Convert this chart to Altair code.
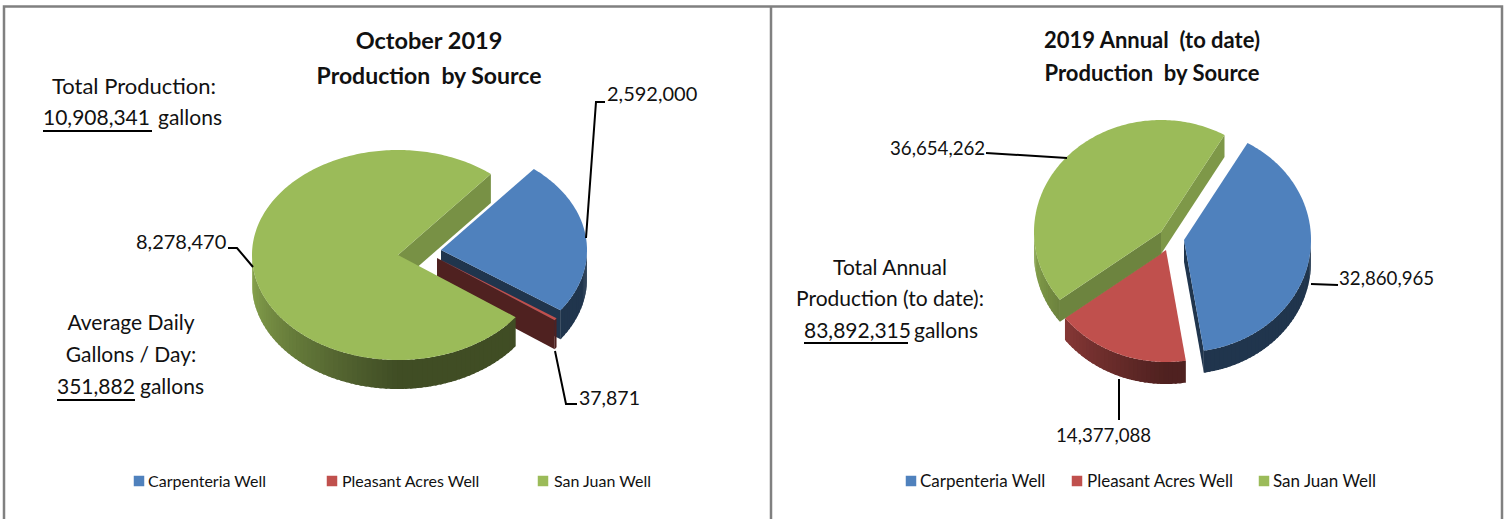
import math
import altair as alt

# Well production, gallons
WELLS = ["Carpenteria Well", "Pleasant Acres Well", "San Juan Well"]
MONTH_GALLONS = [2592000, 37871, 8278470]
YEAR_GALLONS = [32860965, 14377088, 36654262]
WELL_RGB = [(79, 129, 189), (192, 80, 77), (155, 187, 89)]
WELL_HEX = ["#4f81bd", "#c0504d", "#9bbb59"]

FONT = "Lato"
W, H = 1507, 519


def tint(rgb, k):
    return "#%02x%02x%02x" % tuple(int(round(c * k)) for c in rgb)


def feature(kind, coords, fill):
    return {
        "type": "Feature",
        "geometry": {"type": kind, "coordinates": coords},
        "properties": {"fill": fill},
    }


def rim_shade(a):
    # Side lighting of the pie rim: brightest on the far left, dark towards the front
    a = a % 360
    if a <= 180:
        return 0.41
    return 0.41 + 0.49 * min(a - 180, 90) / 90


def pie_3d(values, start, anchors, rx, ry, depth):
    """Extruded exploded pie; slices run clockwise from `start` degrees off vertical."""
    total = sum(values)
    shapes = []
    a0 = start
    for value, rgb, (cx, cy) in zip(values, WELL_RGB, anchors):
        a1 = a0 + 360 * value / total

        def pt(a, drop=0):
            r = math.radians(a)
            return [cx + rx * math.sin(r), cy - ry * math.cos(r) + drop]

        # Flat cut faces, only those turned towards the viewer
        for a, nx, ny in (
            (a0, -math.cos(math.radians(a0)), -math.sin(math.radians(a0))),
            (a1, math.cos(math.radians(a1)), math.sin(math.radians(a1))),
        ):
            if ny > 0:
                k = 0.41 if nx <= 0 else 0.45 + 0.42 * nx
                ring = [[cx, cy], pt(a), pt(a, depth), [cx, cy + depth], [cx, cy]]
                shapes.append(feature("Polygon", [ring], tint(rgb, k)))

        # Curved rim: short shaded strips, each running under the next so no seams show
        lo, hi = max(a0, 90), min(a1, 270)
        a = lo
        while a < hi:
            b = min(a + 2, hi)
            e = min(b + 1, hi)
            arc = [pt(a + (e - a) * i / 4) for i in range(5)]
            low = [pt(a + (e - a) * i / 4, depth) for i in range(4, -1, -1)]
            ring = arc + low + [arc[0]]
            shapes.append(feature("Polygon", [ring], tint(rgb, rim_shade((a + b) / 2))))
            a = b

        # Top face
        n = max(int(a1 - a0), 2)
        arc = [pt(a0 + (a1 - a0) * i / n) for i in range(n + 1)]
        shapes.append(feature("Polygon", [[[cx, cy]] + arc + [[cx, cy]]], tint(rgb, 1)))
        a0 = a1
    return shapes


def line_layer(paths, color, width):
    feats = [feature("LineString", p, color) for p in paths]
    return (
        alt.Chart(alt.Data(values=feats))
        .mark_geoshape(filled=False, stroke=color, strokeWidth=width, strokeCap="butt")
        .project(type="identity", scale=1, translate=[0, 0])
    )


def label(text, x, y, size=20, align="left", bold=False):
    return (
        alt.Chart(alt.Data(values=[{"t": text}]))
        .mark_text(
            font=FONT, fontSize=size, align=align, baseline="middle",
            fontWeight="bold" if bold else "normal", color="#111111",
        )
        .encode(x=alt.value(x), y=alt.value(y + 1), text="t:N")
    )


def swatch(color, x, y):
    return (
        alt.Chart(alt.Data(values=[{"c": color}]))
        .mark_square(size=110, color=color, opacity=1)
        .encode(x=alt.value(x), y=alt.value(y))
    )


month_shapes = pie_3d(
    MONTH_GALLONS, 39.5, [(441, 250), (437, 258), (398, 255)], 146, 105, 29
)
year_shapes = pie_3d(
    YEAR_GALLONS, 30, [(1184, 240), (1166, 250), (1161, 232)], 127, 112, 22
)

pies = (
    alt.Chart(alt.Data(values=month_shapes + year_shapes))
    .mark_geoshape()
    .encode(fill=alt.Fill("properties.fill:N", scale=None))
    .project(type="identity", scale=1, translate=[0, 0])
)

frame = line_layer(
    [
        [[4, 519], [4, 6.5], [1502, 6.5], [1502, 519]],
        [[771, 6.5], [771, 519]],
    ],
    "#808080",
    2.5,
)

leaders = line_layer(
    [
        [[586, 238], [596, 102], [605, 102]],
        [[228, 248], [237, 248], [253, 267]],
        [[555, 351], [566, 404], [577, 404]],
        [[986, 153], [1067, 158]],
        [[1311, 284], [1338, 285]],
        [[1119, 379], [1119, 420]],
    ],
    "#000000",
    2,
)

underlines = line_layer(
    [
        [[43, 131], [152, 131]],
        [[57, 400], [135, 400]],
        [[804, 343], [908, 343]],
    ],
    "#000000",
    2,
)

texts = [
    label("October 2019", 429, 41, 23.5, "center", True),
    label("Production\u00a0 by Source", 429, 76, 23, "center", True),
    label("Total Production:", 134, 86, 22, "center"),
    label("10,908,341", 43, 118, 21),
    label("gallons", 158, 118, 21),
    label("Average Daily", 131, 323, 21, "center"),
    label("Gallons / Day:", 131, 355, 21, "center"),
    label("351,882", 57, 387, 21),
    label("gallons", 140, 387, 21),
    label("2,592,000", 607, 94),
    label("8,278,470", 136, 242),
    label("37,871", 579, 398, 19.5),
    label("2019 Annual\u00a0 (to date)", 1152, 40, 22, "center", True),
    label("Production\u00a0 by Source", 1152, 73, 22, "center", True),
    label("Total Annual", 890, 268, 21, "center"),
    label("Production (to date):", 890, 299, 21, "center"),
    label("83,892,315", 804, 331, 21),
    label("gallons", 914, 331, 21),
    label("36,654,262", 890, 148, 18.7),
    label("32,860,965", 1339, 278, 18.7),
    label("14,377,088", 1056, 435, 18.7),
]

legend = []
for well, color, mx, tx in zip(WELLS, WELL_HEX, (139, 332, 543), (148, 342, 554)):
    legend += [swatch(color, mx, 481), label(well, tx, 481, 16)]
for well, color, mx, tx in zip(WELLS, WELL_HEX, (911, 1077, 1264), (920, 1087, 1273)):
    legend += [swatch(color, mx, 481), label(well, tx, 481, 17)]

chart = (
    alt.layer(frame, pies, leaders, underlines, *texts, *legend)
    .properties(
        width=W,
        height=H,
        padding=0,
        autosize=alt.AutoSizeParams(type="none"),
        background="white",
    )
    .configure_view(stroke=None)
)

chart.save("out.html", embed_options={"renderer": "svg", "actions": False})
